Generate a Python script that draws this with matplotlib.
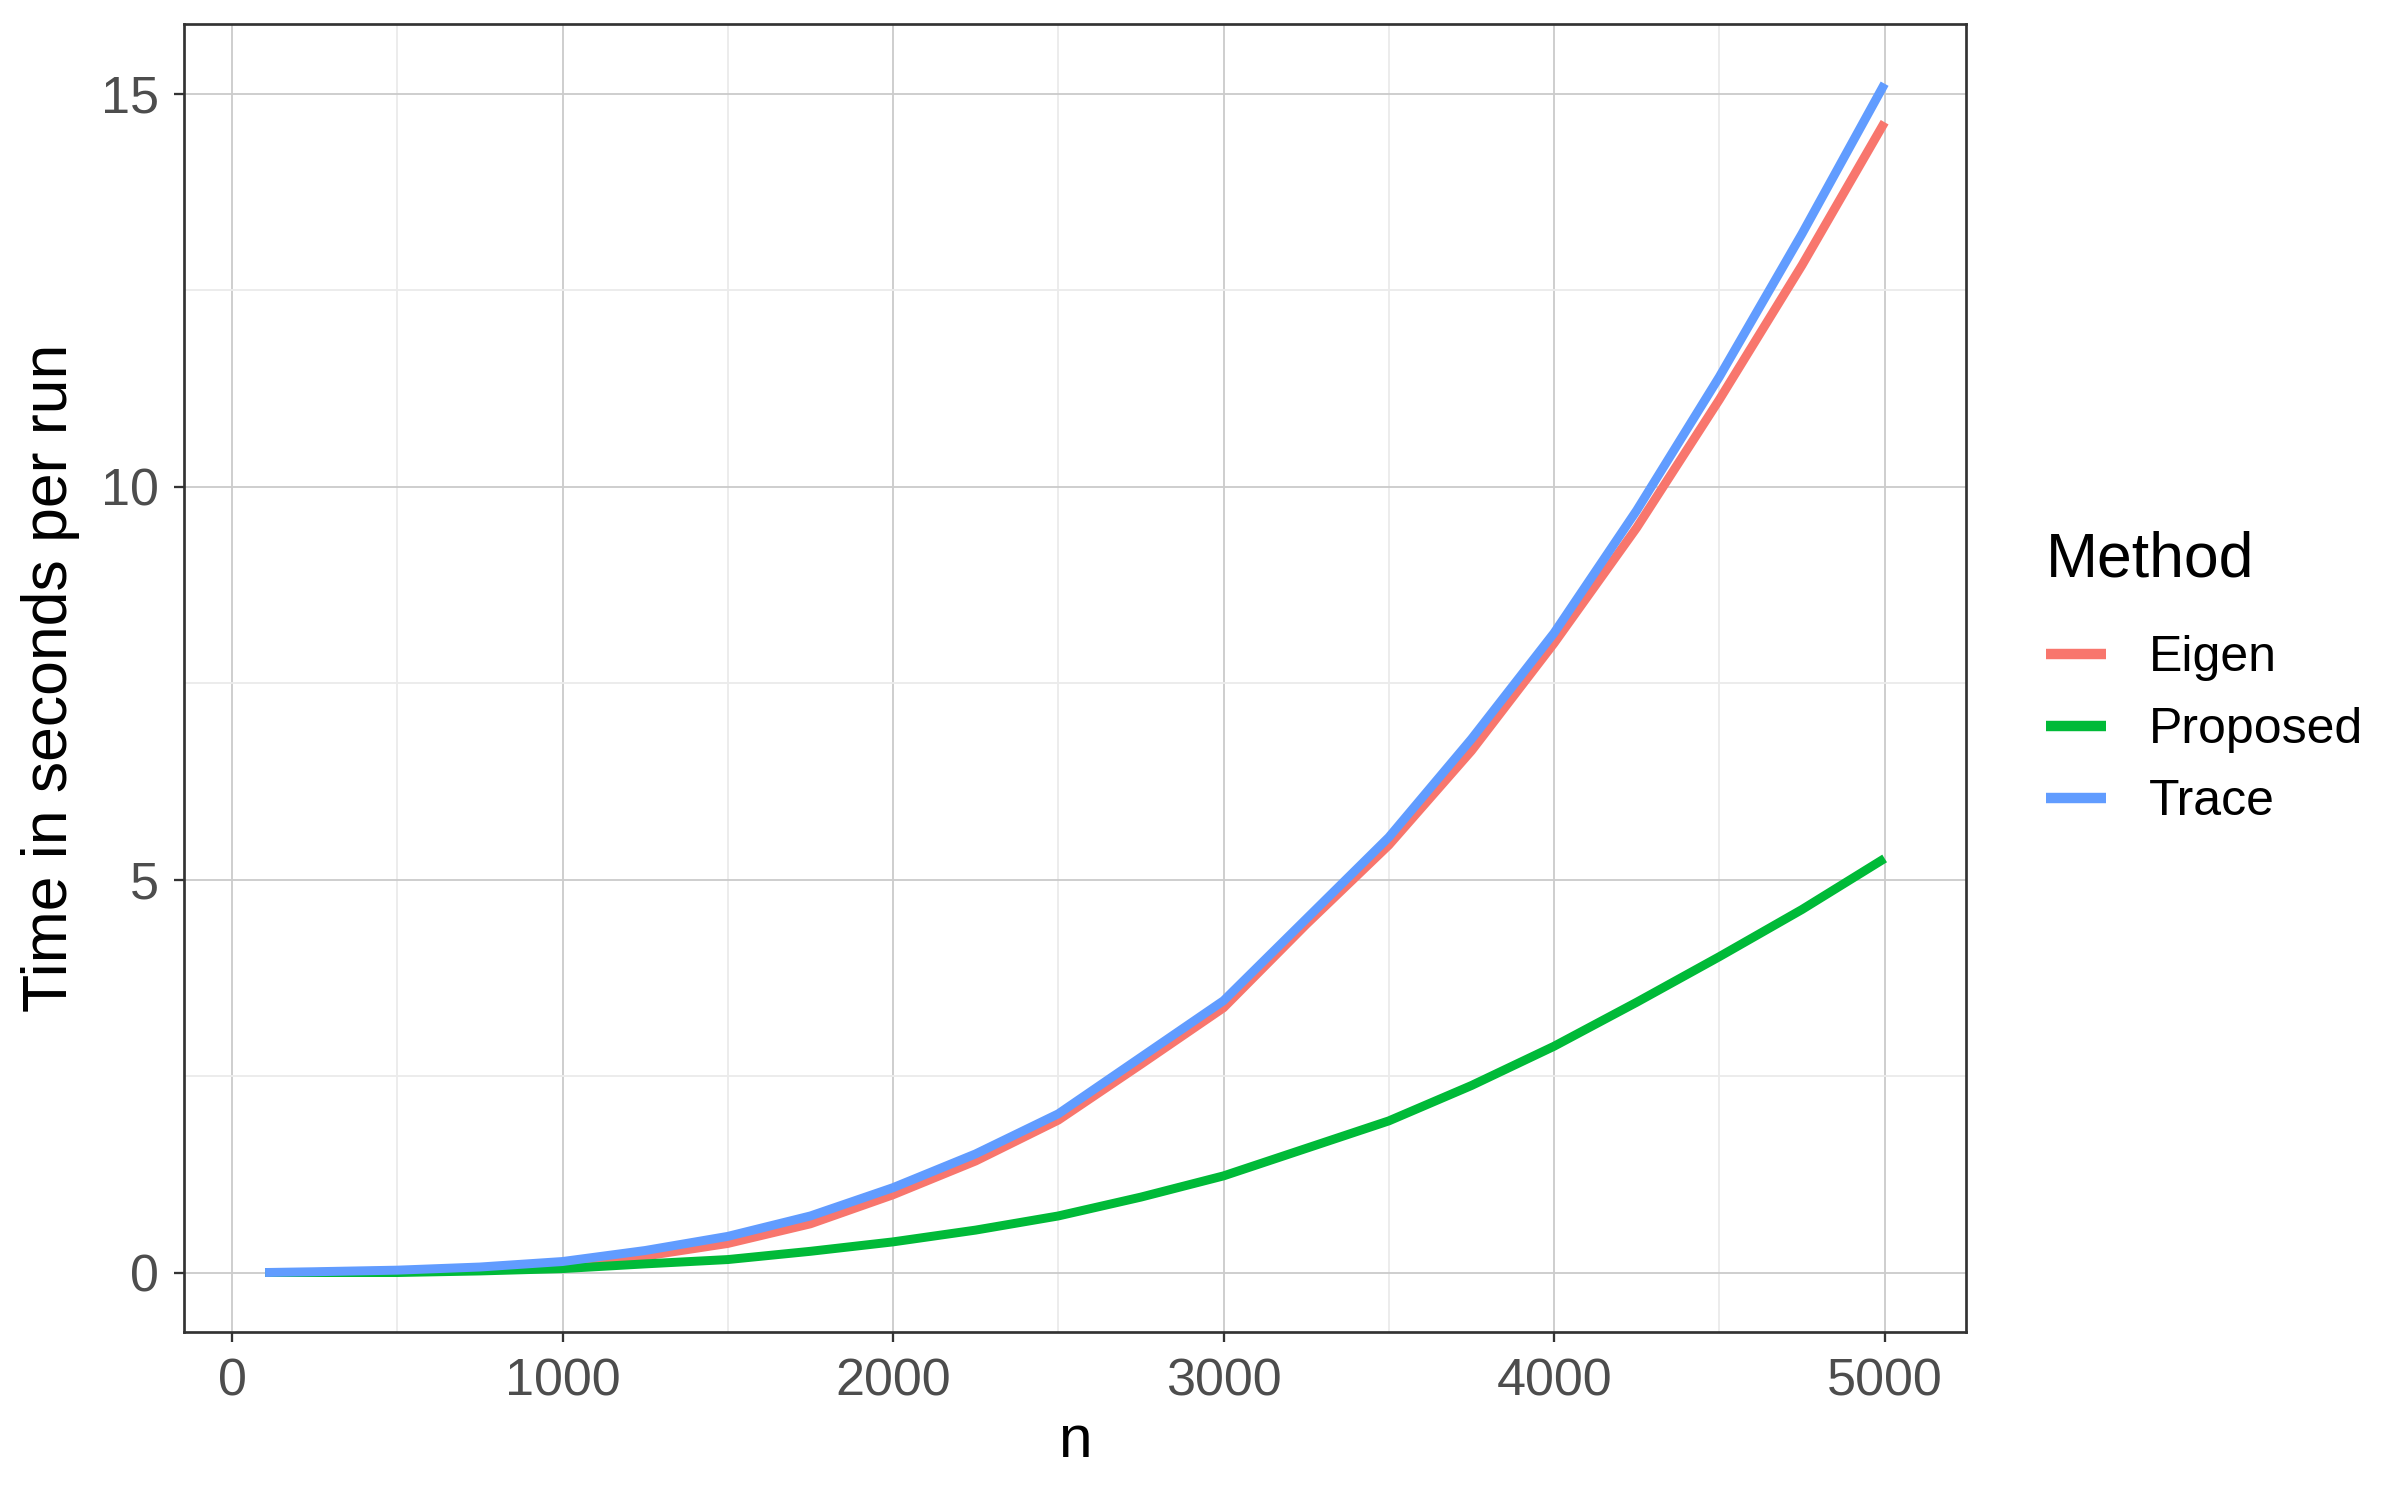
import matplotlib.pyplot as plt
from matplotlib.ticker import MultipleLocator

plt.rcParams['font.family'] = ['Liberation Sans', 'DejaVu Sans']

# values
n = [100, 250, 500, 750, 1000, 1250, 1500, 1750, 2000, 2250, 2500,
     2750, 3000, 3250, 3500, 3750, 4000, 4250, 4500, 4750, 5000]
eigen = [0.0, 0.0, 0.02, 0.05, 0.12, 0.21, 0.37, 0.62, 0.99, 1.42, 1.94,
         2.65, 3.37, 4.43, 5.44, 6.64, 8.01, 9.48, 11.11, 12.82, 14.64]
proposed = [0.0, 0.0, 0.0, 0.02, 0.05, 0.11, 0.165, 0.27, 0.39, 0.54, 0.72,
            0.96, 1.23, 1.58, 1.93, 2.38, 2.88, 3.44, 4.02, 4.62, 5.27]
trace = [0.0, 0.01, 0.03, 0.07, 0.14, 0.28, 0.46, 0.72, 1.08, 1.51, 2.02,
         2.74, 3.46, 4.5, 5.54, 6.79, 8.14, 9.7, 11.4, 13.22, 15.13]

methods = ['Eigen', 'Proposed', 'Trace']
series = [eigen, proposed, trace]
colors = ['#F8766D', '#00BA38', '#619CFF']

fig = plt.figure(figsize=(16, 10), dpi=150)
ax = fig.add_axes([0.0767, 0.112, 0.819 - 0.0767, 0.984 - 0.112])

for m, vals, c in zip(methods, series, colors):
    ax.plot(n, vals, color=c, lw=4.3, label=m, solid_capstyle='butt')

ax.set_xlim(-145, 5245)
ax.set_ylim(-0.757, 15.89)
ax.xaxis.set_major_locator(MultipleLocator(1000))
ax.xaxis.set_minor_locator(MultipleLocator(500))
ax.yaxis.set_major_locator(MultipleLocator(5))
ax.yaxis.set_minor_locator(MultipleLocator(2.5))
ax.grid(which='major', color='#CCCCCC', lw=0.9)
ax.grid(which='minor', color='#EBEBEB', lw=0.9)
ax.set_axisbelow(True)

for s in ax.spines.values():
    s.set_color('#333333')
    s.set_linewidth(1.3)
ax.tick_params(which='major', length=5, width=1.1, color='#333333',
               labelsize=25, labelcolor='#4D4D4D', pad=7)
ax.tick_params(which='minor', length=0)

ax.set_xlabel('n', fontsize=29, labelpad=4)
ax.set_ylabel('Time in seconds per run', fontsize=30, labelpad=10)

leg = ax.legend(title='Method', frameon=False, loc='center left',
                bbox_to_anchor=(1.02, 0.50), fontsize=24, title_fontsize=30,
                handlelength=1.2, handletextpad=0.85, labelspacing=0.52,
                alignment='left')
leg._legend_box.sep = 22
for h in leg.get_lines():
    h.set_linewidth(5)

plt.savefig('out.png', dpi=150)
